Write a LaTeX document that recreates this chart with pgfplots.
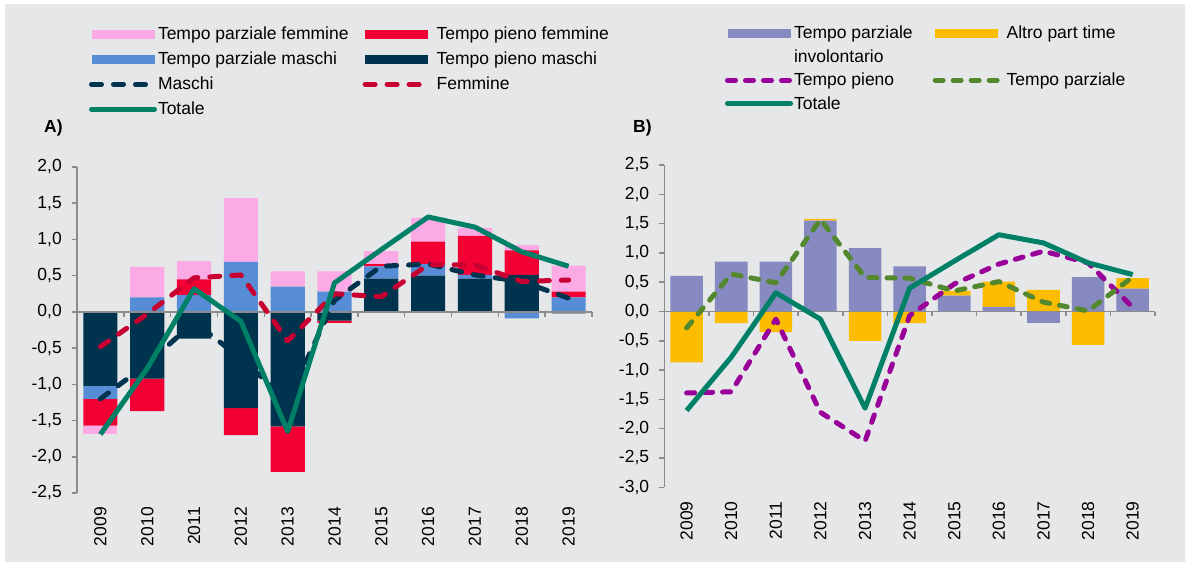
\documentclass[border=0pt]{standalone}
\usepackage{fontspec}
\setmainfont{Liberation Sans}
\usepackage{pgfplots}
\usepackage{pgfplotstable}
\pgfplotsset{compat=1.18}
\definecolor{bg}{RGB}{230,231,233}
\definecolor{pinkc}{RGB}{252,170,230}
\definecolor{redc}{RGB}{242,0,52}
\definecolor{bluec}{RGB}{86,141,214}
\definecolor{navyc}{RGB}{0,51,77}
\definecolor{femc}{RGB}{200,0,50}
\definecolor{totc}{RGB}{0,128,102}
\definecolor{purc}{RGB}{134,138,192}
\definecolor{yelc}{RGB}{252,188,0}
\definecolor{magc}{RGB}{153,0,153}
\definecolor{grnc}{RGB}{84,136,46}
\definecolor{axc}{RGB}{140,140,140}
\newcommand\fs{\fontsize{17.5}{21}\selectfont}

\pgfplotstableread{
x  npos nneg  bpos bneg  rpos rneg  ppos pneg  mas   fem   tot
0  0    -1.02 0    -0.18 0    -0.37 0    -0.11 -1.20 -0.48 -1.69
1  0    -0.92 0.20 0     0    -0.45 0.42 0     -0.72 -0.03 -0.78
2  0    -0.37 0.23 0     0.22 0     0.25 0     -0.14 0.47  0.32
3  0    -1.33 0.69 0     0    -0.37 0.88 0     -0.64 0.51  -0.13
4  0    -1.58 0.35 0     0    -0.63 0.21 0     -1.23 -0.40 -1.65
5  0    -0.12 0.28 0     0    -0.03 0.28 0     0.16  0.25  0.40
6  0.46 0     0.17 0     0.03 0     0.18 0     0.63  0.21  0.86
7  0.50 0     0.16 0     0.31 0     0.33 0     0.66  0.65  1.31
8  0.46 0     0.05 0     0.54 0     0.11 0     0.51  0.65  1.17
9  0.51 0     0    -0.09 0.34 0     0.07 0     0.42  0.42  0.83
10 0    -0.02 0.20 0     0.08 0     0.36 0     0.19  0.44  0.63
}\dataA

\pgfplotstableread{
x  ipos  ineg  apos aneg  pie   par   tot
0  0.61  0     0    -0.87 -1.39 -0.28 -1.69
1  0.85  0     0    -0.20 -1.37 0.64  -0.78
2  0.85  0     0    -0.35 -0.13 0.49  0.32
3  1.55  0     0.03 0     -1.72 1.57  -0.13
4  1.08  0     0    -0.50 -2.21 0.58  -1.65
5  0.77  0     0    -0.20 -0.07 0.57  0.40
6  0.27  0     0.08 0     0.47  0.35  0.86
7  0.08  0     0.43 0     0.81  0.51  1.31
8  0     -0.19 0.37 0     1.03  0.16  1.17
9  0.585 0     0    -0.57 0.83  0.01  0.83
10 0.39  0     0.18 0     0.07  0.59  0.63
}\dataB

\pgfplotsset{
  base/.style={scale only axis, anchor=south west, xmin=-0.5, xmax=10.5, bar width=0.73},
  vis/.style={
    axis x line*=bottom, axis y line*=left,
    x axis line style={draw=none},
    y axis line style={draw=axc, line width=1.5pt},
    xtick={0,...,10},
    xticklabels={2009,2010,2011,2012,2013,2014,2015,2016,2017,2018,2019},
    xtick style={draw=none},
    ytick style={draw=axc, line width=1.5pt},
    tick align=outside, major tick length=5pt,
    ticklabel style={font=\fs},
    x tick label style={rotate=90, anchor=east, inner sep=0pt, xshift=-9pt},
    y tick label style={inner sep=0pt, xshift=-10pt},
    /pgf/number format/.cd, fixed, fixed zerofill, precision=1, use comma, assume math mode=true,
    /pgfplots/.cd,
    legend columns=2, legend cell align=left,
    legend style={draw=none, fill=none, font=\fs, inner sep=0pt, outer sep=0pt,
      anchor=north west,
      nodes={inner sep=0pt, text height=13pt, text depth=4pt},
      column sep=1pt},
  },
  hid/.style={hide axis},
  panelA/.style={base, at={(77pt,73pt)}, width=515pt, height=326pt, ymin=-2.5, ymax=2},
  panelB/.style={base, at={(664.3pt,78.7pt)}, width=490.7pt, height=322.3pt, ymin=-3, ymax=2.5},
  barleg/.style={legend image code/.code={\fill[##1, draw=none] (0pt,-3.5pt) rectangle (63pt,5.5pt);}},
  lineleg/.style={legend image code/.code={\draw[##1] (0pt,1pt) -- (63pt,1pt);}},
  dashA/.style={line width=5pt, line cap=round, dash pattern=on 10pt off 12pt},
  dashB/.style={line width=5pt, line cap=round, dash pattern=on 8pt off 10pt},
}

\begin{document}
\begin{tikzpicture}[x=1pt,y=1pt]
\fill[bg] (5,4) rectangle (1185,562);
\path (0,0) rectangle (1190,566);
\node[anchor=west, font=\fs\bfseries, inner sep=0pt] at (44,438) {A)};
\node[anchor=west, font=\fs\bfseries, inner sep=0pt] at (633,438) {B)};

% ---------- Panel A ----------
\begin{axis}[panelA, vis, ybar stacked,
  ytick={-2.5,-2,-1.5,-1,-0.5,0,0.5,1,1.5,2},
  legend style={at={(axis description cs:0.0233,1.430)}, row sep=8pt,
    /tikz/column 2/.append style={column sep=14pt},
    /tikz/column 3/.append style={column sep=6pt}}]
\addlegendimage{barleg, fill=pinkc}\addlegendentry{Tempo parziale femmine}
\addlegendimage{barleg, fill=redc}\addlegendentry{Tempo pieno femmine}
\addlegendimage{barleg, fill=bluec}\addlegendentry{Tempo parziale maschi}
\addlegendimage{barleg, fill=navyc}\addlegendentry{Tempo pieno maschi}
\addlegendimage{lineleg, navyc, dashA}\addlegendentry{Maschi}
\addlegendimage{lineleg, femc, dashA}\addlegendentry{Femmine}
\addlegendimage{lineleg, totc, line width=5pt, line cap=round}\addlegendentry{Totale}
\addplot[forget plot, fill=navyc, draw=none] table[x=x, y=npos] {\dataA};
\addplot[forget plot, fill=bluec, draw=none] table[x=x, y=bpos] {\dataA};
\addplot[forget plot, fill=redc, draw=none] table[x=x, y=rpos] {\dataA};
\addplot[forget plot, fill=pinkc, draw=none] table[x=x, y=ppos] {\dataA};
\end{axis}
\begin{axis}[panelA, hid, ybar stacked]
\addplot[fill=navyc, draw=none] table[x=x, y=nneg] {\dataA};
\addplot[fill=bluec, draw=none] table[x=x, y=bneg] {\dataA};
\addplot[fill=redc, draw=none] table[x=x, y=rneg] {\dataA};
\addplot[fill=pinkc, draw=none] table[x=x, y=pneg] {\dataA};
\end{axis}
\begin{axis}[panelA, hid, clip=false]
\addplot[draw=axc, line width=1.5pt] coordinates {(-0.5,0) (10.5,0)};
\addplot[ycomb, draw=axc, line width=1.5pt] coordinates {(0.5,-0.07) (1.5,-0.07) (2.5,-0.07) (3.5,-0.07) (4.5,-0.07) (5.5,-0.07) (6.5,-0.07) (7.5,-0.07) (8.5,-0.07) (9.5,-0.07) (10.5,-0.07)};
\addplot[navyc, dashA, line join=round] table[x=x, y=mas] {\dataA};
\addplot[femc, dashA, line join=round] table[x=x, y=fem] {\dataA};
\addplot[totc, line width=5pt, line join=round] table[x=x, y=tot] {\dataA};
\end{axis}

% ---------- Panel B ----------
\begin{axis}[panelB, vis, ybar stacked,
  ytick={-3,-2.5,-2,-1.5,-1,-0.5,0,0.5,1,1.5,2,2.5},
  legend style={at={(axis description cs:0.1237,1.432)}, row sep=6.5pt,
    /tikz/column 2/.append style={column sep=20pt},
    /tikz/column 3/.append style={column sep=6pt}}]
\addlegendimage{barleg, fill=purc}\addlegendentry{Tempo parziale}
\addlegendimage{barleg, fill=yelc}\addlegendentry{Altro part time}
\addlegendimage{empty legend}\addlegendentry{involontario}
\addlegendimage{empty legend}\addlegendentry{}
\addlegendimage{lineleg, magc, dashB}\addlegendentry{Tempo pieno}
\addlegendimage{lineleg, grnc, dashB}\addlegendentry{Tempo parziale}
\addlegendimage{lineleg, totc, line width=5pt, line cap=round}\addlegendentry{Totale}
\addplot[forget plot, fill=purc, draw=none] table[x=x, y=ipos] {\dataB};
\addplot[forget plot, fill=yelc, draw=none] table[x=x, y=apos] {\dataB};
\end{axis}
\begin{axis}[panelB, hid, ybar stacked]
\addplot[fill=purc, draw=none] table[x=x, y=ineg] {\dataB};
\addplot[fill=yelc, draw=none] table[x=x, y=aneg] {\dataB};
\end{axis}
\begin{axis}[panelB, hid, clip=false]
\addplot[draw=axc, line width=1.5pt] coordinates {(-0.5,0) (10.5,0)};
\addplot[ycomb, draw=axc, line width=1.5pt] coordinates {(0.5,-0.085) (1.5,-0.085) (2.5,-0.085) (3.5,-0.085) (4.5,-0.085) (5.5,-0.085) (6.5,-0.085) (7.5,-0.085) (8.5,-0.085) (9.5,-0.085) (10.5,-0.085)};
\addplot[magc, dashB, line join=round] table[x=x, y=pie] {\dataB};
\addplot[grnc, dashB, line join=round] table[x=x, y=par] {\dataB};
\addplot[totc, line width=5pt, line join=round] table[x=x, y=tot] {\dataB};
\end{axis}
\end{tikzpicture}
\end{document}
